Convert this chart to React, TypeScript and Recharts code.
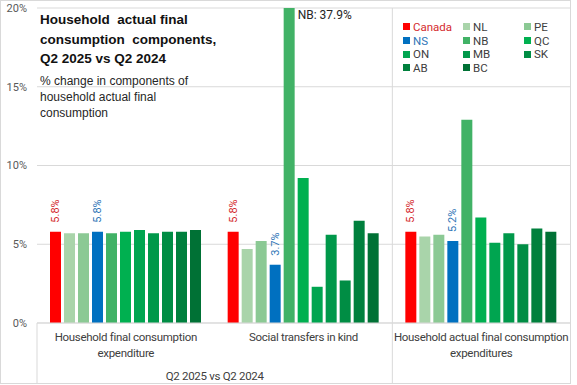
import React from "react";
import { BarChart, Bar, XAxis, YAxis, CartesianGrid, LabelList } from "recharts";

const categories = [
  "Household final consumption expenditure",
  "Social transfers in kind",
  "Household actual final consumption expenditures",
];
const categoryLines = [
  ["Household final consumption", "expenditure"],
  ["Social transfers in kind"],
  ["Household actual final consumption", "expenditures"],
];
const groupLabel = "Q2 2025 vs Q2 2024";

const regions = ["Canada", "NL", "PE", "NS", "NB", "QC", "ON", "MB", "SK", "AB", "BC"];
const canada = [5.8, 5.8, 5.8];
const nl = [5.7, 4.7, 5.5];
const pe = [5.7, 5.2, 5.6];
const ns = [5.8, 3.7, 5.2];
const nb = [5.7, 37.9, 12.9];
const qc = [5.8, 9.2, 6.7];
const on = [5.9, 2.3, 5.1];
const mb = [5.7, 5.6, 5.7];
const sk = [5.8, 2.7, 5.0];
const ab = [5.8, 6.5, 6.0];
const bc = [5.9, 5.7, 5.8];
const seriesValues = [canada, nl, pe, ns, nb, qc, on, mb, sk, ab, bc];
const yTicks = [0, 5, 10, 15, 20];

const colors = ["#FF0000", "#A9D4AA", "#8BC994", "#0070C0", "#41B266", "#00B050", "#00A550", "#00984A", "#008D44", "#00803D", "#007135"];
const textColors: Record<string, string> = { Canada: "#D42A2E", NS: "#2E75B6" };

const data = categories.map((name, i) => {
  const row: Record<string, string | number> = { name };
  regions.forEach((r, j) => (row[r] = seriesValues[j][i]));
  return row;
});

const NARROW = "Roboto, Arial, sans-serif";
const REG = '"Liberation Sans", Arial, sans-serif';

const PLOT_TOP = 8;
const FRAME_BOTTOM = 383;
const BAND = 533 / 3;

const CategoryTick = (props: any) => {
  const { x, y, index } = props;
  const lines = categoryLines[index] || [];
  return (
    <g>
      {lines.map((l, k) => (
        <text key={k} x={x} y={y + 18 + k * 16} textAnchor="middle" fill="#404040" fontSize={11.5} letterSpacing={-0.3} fontFamily={NARROW}>
          {l}
        </text>
      ))}
      {index === 0 && (
        <>
          <line x1={x - BAND / 2} x2={x - BAND / 2} y1={y} y2={FRAME_BOTTOM} stroke="#d9d9d9" />
          <text x={x + BAND / 2} y={y + 57} textAnchor="middle" fill="#404040" fontSize={11.5} letterSpacing={-0.3} fontFamily={NARROW}>
            {groupLabel}
          </text>
        </>
      )}
      {index === 2 && (
        <line x1={x - BAND / 2} x2={x - BAND / 2} y1={PLOT_TOP} y2={FRAME_BOTTOM} stroke="#d9d9d9" />
      )}
    </g>
  );
};

const rotatedLabel = (color: string) => (props: any) => {
  const vb = props.viewBox || {};
  const x = props.x ?? vb.x;
  const y = props.y ?? vb.y;
  const width = props.width ?? vb.width;
  const v = Number(props.value);
  if (v > 20) return null;
  return (
    <text
      transform={`translate(${x + width / 2}, ${y - 9}) rotate(-90)`}
      textAnchor="start"
      dominantBaseline="central"
      fill={color}
      fontSize={11}
      fontFamily={NARROW}
    >
      {v.toFixed(1)}%
    </text>
  );
};

const nbLabel = (props: any) => {
  const vb = props.viewBox || {};
  const x = props.x ?? vb.x;
  const width = props.width ?? vb.width;
  const v = Number(props.value);
  if (v <= 20) return null;
  return (
    <text x={x + width + 3} y={PLOT_TOP + 11} fill="#262626" fontSize={12} fontFamily={NARROW}>
      NB: {v.toFixed(1)}%
    </text>
  );
};

const ChartLegend = () => (
  <div
    style={{
      position: "absolute",
      left: 403,
      top: 20,
      display: "grid",
      gridTemplateColumns: "60px 61px 40px",
      fontFamily: NARROW,
      fontSize: 11.5,
    }}
  >
    {regions.map((r, i) => (
      <div key={r} style={{ display: "flex", alignItems: "center", height: 13.7, color: textColors[r] || "#404040" }}>
        <span style={{ width: 7, height: 7, background: colors[i], marginRight: 3, display: "inline-block" }} />
        {r}
      </div>
    ))}
  </div>
);

export default function App() {
  return (
    <div style={{ position: "relative", width: 577, height: 385, background: "#fff", fontFamily: REG }}>
      <style>{"body{margin:0}"}</style>
      <BarChart
        width={577}
        height={385}
        data={data}
        margin={{ top: PLOT_TOP, right: 7, left: 0, bottom: 2 }}
        barCategoryGap={13}
        barGap={3}
      >
        <CartesianGrid vertical={false} stroke="#d9d9d9" />
        <XAxis
          dataKey="name"
          height={60}
          tickLine={false}
          tickSize={0}
          tickMargin={0}
          axisLine={{ stroke: "#d9d9d9" }}
          tick={<CategoryTick />}
          interval={0}
        />
        <YAxis
          width={37}
          domain={[0, 20]}
          ticks={yTicks}
          allowDataOverflow
          axisLine={false}
          tickLine={false}
          tickSize={0}
          tickMargin={10}
          tickFormatter={(v: number) => `${v}%`}
          tick={{ fill: "#595959", fontSize: 11, fontFamily: NARROW }}
        />
        {regions.map((r, i) => (
          <Bar key={r} dataKey={r} fill={colors[i]} isAnimationActive={false}>
            {r === "Canada" && <LabelList dataKey={r} content={rotatedLabel(textColors.Canada)} />}
            {r === "NS" && <LabelList dataKey={r} content={rotatedLabel(textColors.NS)} />}
            {r === "NB" && <LabelList dataKey={r} content={nbLabel} />}
          </Bar>
        ))}
      </BarChart>
      <ChartLegend />
      <div style={{ position: "absolute", left: 0, top: 0, width: 571, height: 384, border: "1px solid #d9d9d9", boxSizing: "border-box", pointerEvents: "none" }} />
      <div style={{ position: "absolute", left: 40, top: 10, color: "#111", fontWeight: "bold", fontSize: 13.5, lineHeight: "19.5px", whiteSpace: "pre" }}>
        {"Household  actual final\nconsumption  components,\nQ2 2025 vs Q2 2024"}
      </div>
      <div style={{ position: "absolute", left: 40, top: 73, color: "#262626", fontSize: 12, lineHeight: "16px", whiteSpace: "pre" }}>
        {"% change in components of\nhousehold actual final\nconsumption"}
      </div>
    </div>
  );
}
